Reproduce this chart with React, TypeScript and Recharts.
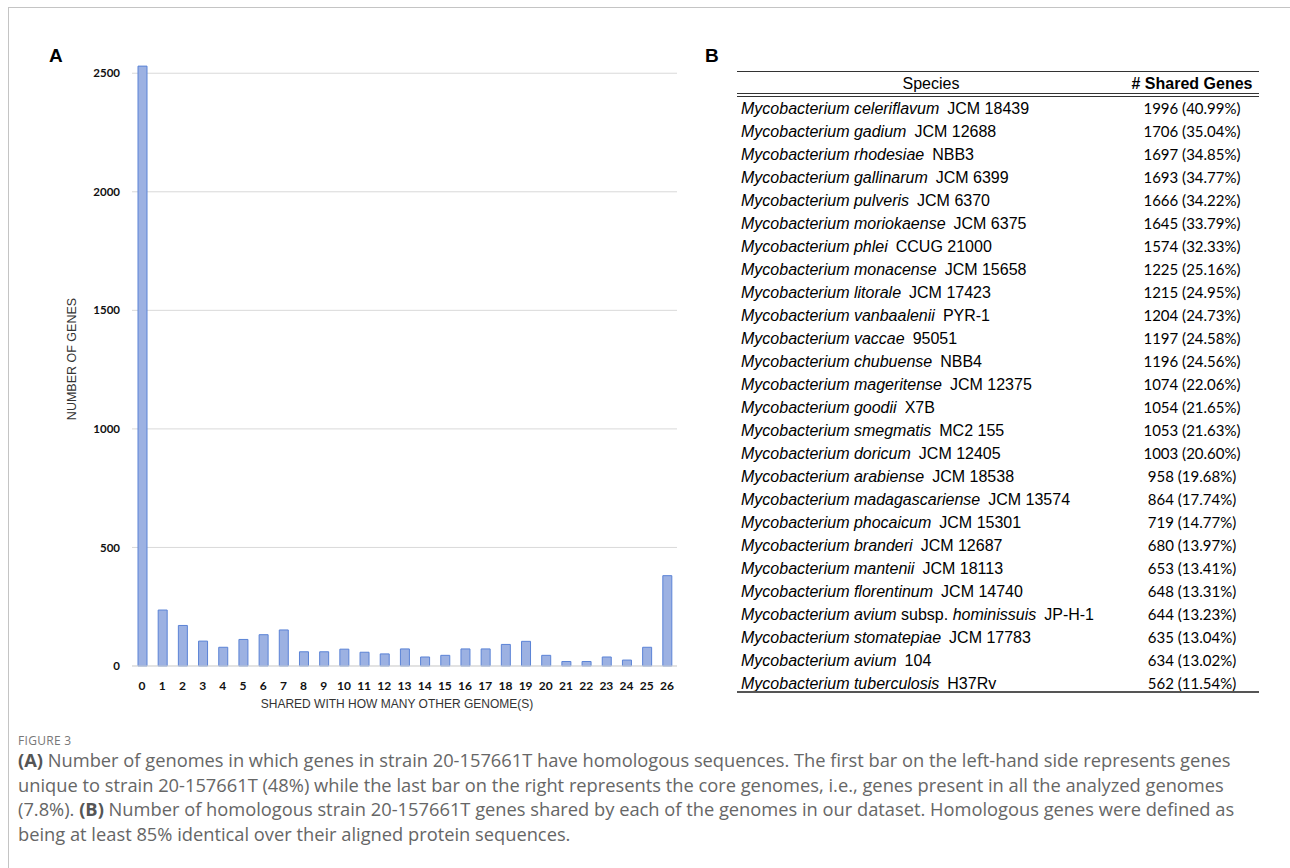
import React from "react";
import { Bar, BarChart, CartesianGrid, XAxis, YAxis } from "recharts";

// panel A: number of other genomes sharing the gene (0..26)
const sharedWith = [
  "0", "1", "2", "3", "4", "5", "6", "7", "8", "9", "10", "11", "12", "13",
  "14", "15", "16", "17", "18", "19", "20", "21", "22", "23", "24", "25", "26",
];
const geneCounts = [
  2530, 236, 171, 105, 79, 112, 132, 152, 60, 60, 71, 58, 51, 72,
  38, 45, 72, 72, 91, 104, 45, 19, 19, 38, 25, 79, 381,
];
const yTicks = [0, 500, 1000, 1500, 2000, 2500];

// panel B: table of shared genes
const speciesNames = [
  "Mycobacterium celeriflavum",
  "Mycobacterium gadium",
  "Mycobacterium rhodesiae",
  "Mycobacterium gallinarum",
  "Mycobacterium pulveris",
  "Mycobacterium moriokaense",
  "Mycobacterium phlei",
  "Mycobacterium monacense",
  "Mycobacterium litorale",
  "Mycobacterium vanbaalenii",
  "Mycobacterium vaccae",
  "Mycobacterium chubuense",
  "Mycobacterium mageritense",
  "Mycobacterium goodii",
  "Mycobacterium smegmatis",
  "Mycobacterium doricum",
  "Mycobacterium arabiense",
  "Mycobacterium madagascariense",
  "Mycobacterium phocaicum",
  "Mycobacterium branderi",
  "Mycobacterium mantenii",
  "Mycobacterium florentinum",
  "Mycobacterium avium subsp. hominissuis",
  "Mycobacterium stomatepiae",
  "Mycobacterium avium",
  "Mycobacterium tuberculosis",
];
const strains = [
  "JCM 18439", "JCM 12688", "NBB3", "JCM 6399", "JCM 6370", "JCM 6375",
  "CCUG 21000", "JCM 15658", "JCM 17423", "PYR-1", "95051", "NBB4",
  "JCM 12375", "X7B", "MC2 155", "JCM 12405", "JCM 18538", "JCM 13574",
  "JCM 15301", "JCM 12687", "JCM 18113", "JCM 14740", "JP-H-1", "JCM 17783",
  "104", "H37Rv",
];
const sharedGenes = [
  1996, 1706, 1697, 1693, 1666, 1645, 1574, 1225, 1215, 1204, 1197, 1196,
  1074, 1054, 1053, 1003, 958, 864, 719, 680, 653, 648, 644, 635, 634, 562,
];
const sharedPercent = [
  "40.99", "35.04", "34.85", "34.77", "34.22", "33.79", "32.33", "25.16",
  "24.95", "24.73", "24.58", "24.56", "22.06", "21.65", "21.63", "20.60",
  "19.68", "17.74", "14.77", "13.97", "13.41", "13.31", "13.23", "13.04",
  "13.02", "11.54",
];

const captionLines = [
  "Number of genomes in which genes in strain 20-157661T have homologous sequences. The first bar on the left-hand side represents genes",
  "unique to strain 20-157661T (48%) while the last bar on the right represents the core genomes, i.e., genes present in all the analyzed genomes",
  "Number of homologous strain 20-157661T genes shared by each of the genomes in our dataset. Homologous genes were defined as",
  "being at least 85% identical over their aligned protein sequences.",
];

const chartData = sharedWith.map((k, i) => ({ k, n: geneCounts[i] }));

const tickFont = { fontFamily: "Lato, 'Open Sans', sans-serif", fontWeight: 700, fill: "#111" };
const arial = "'Liberation Sans', Arial, sans-serif";

function SpeciesCell({ name }: { name: string }) {
  const parts = name.split(" subsp. ");
  if (parts.length === 1) return <i>{name}</i>;
  return (
    <>
      <i>{parts[0]}</i> subsp. <i>{parts[1]}</i>
    </>
  );
}

export default function App() {
  return (
    <div
      style={{
        position: "absolute",
        left: 0,
        top: 0,
        width: 1290,
        height: 868,
        background: "#fff",
        overflow: "hidden",
        fontFamily: arial,
      }}
    >
      <div
        style={{
          position: "absolute",
          left: 8,
          top: 7,
          width: 1300,
          height: 900,
          borderLeft: "1.5px solid #c4c4c4",
          borderTop: "1.5px solid #c4c4c4",
        }}
      />
      <div style={{ position: "absolute", left: 49, top: 45, fontSize: 19, fontWeight: 700, color: "#000" }}>A</div>
      <div style={{ position: "absolute", left: 705, top: 45, fontSize: 19, fontWeight: 700, color: "#000" }}>B</div>

      <div style={{ position: "absolute", left: 0, top: 0 }}>
        <BarChart
          width={700}
          height={720}
          data={chartData}
          margin={{ top: 59, right: 23, bottom: 24, left: 72 }}
          barCategoryGap={0}
        >
          <CartesianGrid
            vertical={false}
            horizontalValues={yTicks}
            stroke="#d9d9d9"
            strokeWidth={1}
          />
          <XAxis
            dataKey="k"
            interval={0}
            height={30}
            tickLine={false}
            axisLine={{ stroke: "#d9d9d9" }}
            tickMargin={9}
            tick={{ ...tickFont, fontSize: 12 }}
          />
          <YAxis
            width={60}
            domain={[0, 2560]}
            ticks={yTicks}
            tickLine={false}
            axisLine={false}
            tickMargin={6}
            tick={{ ...tickFont, fontSize: 11.5 }}
          />
          <Bar
            dataKey="n"
            barSize={9}
            fill="#9cb1e2"
            stroke="#5b83d6"
            strokeWidth={1}
            isAnimationActive={false}
          />
        </BarChart>
      </div>

      <div
        style={{
          position: "absolute",
          left: 72 - 90,
          top: 359 - 8,
          width: 180,
          textAlign: "center",
          transform: "rotate(-90deg)",
          fontSize: 12.5,
          lineHeight: "16px",
          color: "#333",
          whiteSpace: "nowrap",
        }}
      >
        NUMBER OF GENES
      </div>
      <div
        style={{
          position: "absolute",
          left: 197,
          top: 696,
          width: 400,
          textAlign: "center",
          fontSize: 12,
          lineHeight: "16px",
          color: "#333",
          whiteSpace: "nowrap",
        }}
      >
        SHARED WITH HOW MANY OTHER GENOME(S)
      </div>

      {/* table B */}
      <div style={{ position: "absolute", left: 737, top: 71, width: 522, color: "#000" }}>
        <div style={{ borderTop: "1.5px solid #333", borderBottom: "4px double #333", display: "flex", height: 21 }}>
          <div style={{ width: 388, textAlign: "center", fontSize: 16, lineHeight: "23px" }}>Species</div>
          <div style={{ width: 134, textAlign: "center", fontSize: 16, fontWeight: 700, lineHeight: "23px", whiteSpace: "nowrap" }}>
            # Shared Genes
          </div>
        </div>
        {speciesNames.map((name, i) => (
          <div key={name + i} style={{ display: "flex", height: 23, lineHeight: "23px" }}>
            <div style={{ width: 384, paddingLeft: 4, fontSize: 16, whiteSpace: "nowrap" }}>
              <SpeciesCell name={name} />
              <span style={{ marginLeft: 8 }}>{strains[i]}</span>
            </div>
            <div
              style={{
                width: 134,
                textAlign: "center",
                fontSize: 15,
                fontFamily: "Lato, 'Open Sans', sans-serif",
                whiteSpace: "nowrap",
              }}
            >
              {sharedGenes[i]} ({sharedPercent[i]}%)
            </div>
          </div>
        ))}
      </div>
      <div style={{ position: "absolute", left: 737, top: 691, width: 522, height: 2, background: "#555" }} />

      {/* caption */}
      <div
        style={{
          position: "absolute",
          left: 18,
          top: 732,
          fontFamily: "'Open Sans', sans-serif",
          fontSize: 12,
          letterSpacing: 0.3,
          color: "#777",
        }}
      >
        FIGURE 3
      </div>
      <div
        style={{
          position: "absolute",
          left: 18,
          top: 748,
          fontFamily: "'Open Sans', sans-serif",
          fontSize: 18.3,
          lineHeight: "24.5px",
          color: "#666",
          whiteSpace: "nowrap",
        }}
      >
        <div>
          <b style={{ color: "#555" }}>(A)</b> {captionLines[0]}
        </div>
        <div>{captionLines[1]}</div>
        <div>
          (7.8%). <b style={{ color: "#555" }}>(B)</b> {captionLines[2]}
        </div>
        <div>{captionLines[3]}</div>
      </div>
    </div>
  );
}
